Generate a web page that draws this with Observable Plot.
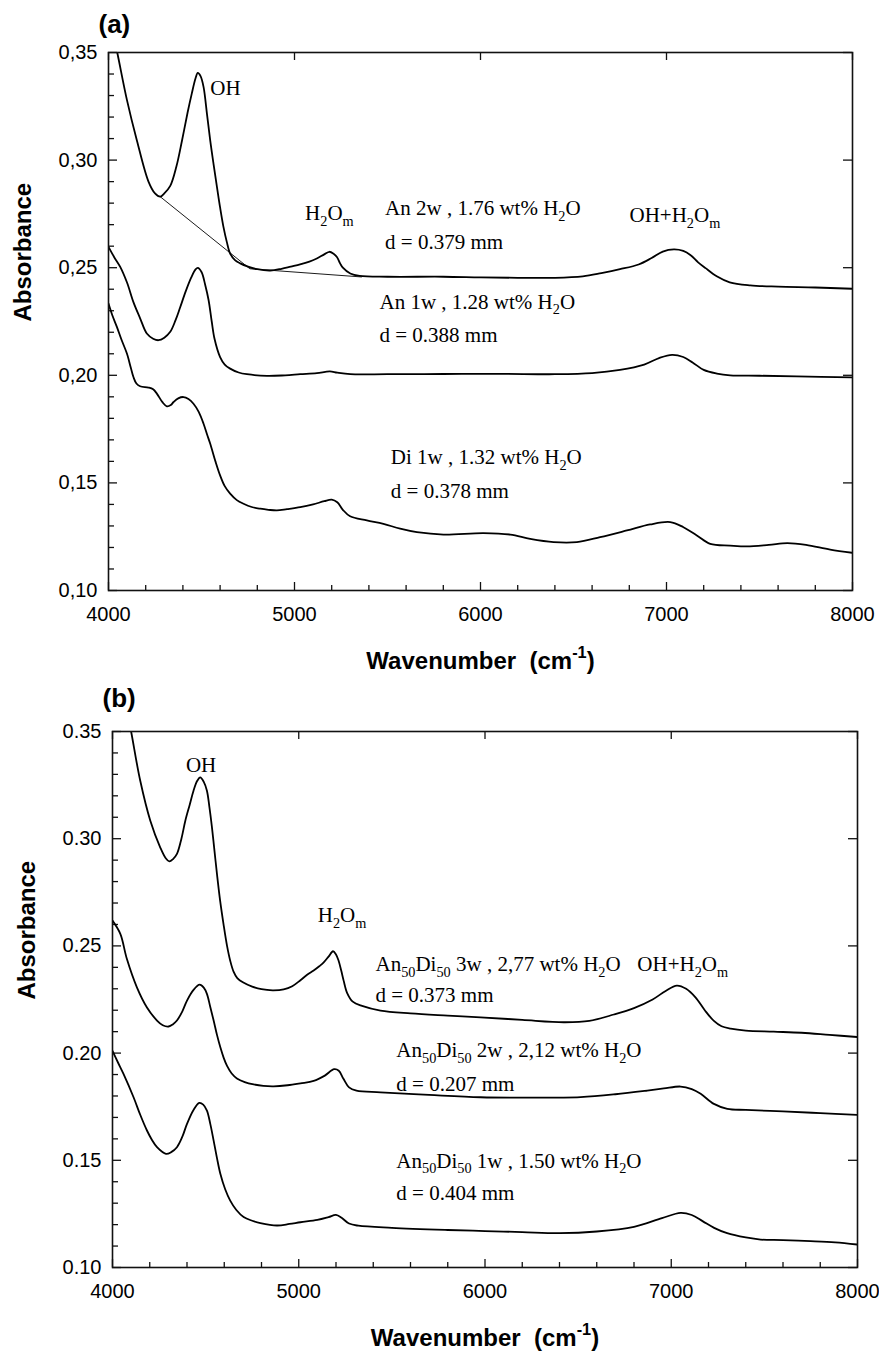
<!DOCTYPE html>
<html>
<head>
<meta charset="utf-8">
<script src="https://cdn.jsdelivr.net/npm/d3@7"></script>
<script src="https://cdn.jsdelivr.net/npm/@observablehq/plot@0.6"></script>
<style>
  html, body { margin: 0; padding: 0; background: #fff; }
  svg { display: block; }
</style>
</head>
<body>
<div id="figure"></div>
<script>
// Axis ticks shared by both panels
const wavenumberTicks = [4000, 5000, 6000, 7000, 8000];
const absorbanceTicks = [0.10, 0.15, 0.20, 0.25, 0.30, 0.35];

// Panel (a) spectra: [wavenumber (cm-1), absorbance]
const an2w = [
  [4000, 0.369], [4047, 0.350], [4099, 0.328], [4153, 0.309], [4215, 0.290], [4250, 0.2845],
  [4278, 0.2830], [4300, 0.2845], [4332, 0.2880], [4365, 0.297], [4395, 0.309], [4425, 0.322],
  [4448, 0.331], [4468, 0.338], [4480, 0.3405], [4495, 0.339], [4511, 0.334], [4530, 0.321],
  [4547, 0.309], [4565, 0.298], [4583, 0.2876], [4600, 0.278], [4618, 0.269], [4636, 0.262],
  [4654, 0.2566], [4680, 0.2535], [4708, 0.252], [4750, 0.2505], [4800, 0.2493], [4870, 0.2487],
  [4930, 0.2495], [4980, 0.2505], [5030, 0.2515], [5080, 0.2528], [5120, 0.2543], [5160, 0.2562],
  [5188, 0.2574], [5210, 0.2565], [5228, 0.2550], [5245, 0.2520], [5260, 0.2500], [5300, 0.2473],
  [5350, 0.2462], [5500, 0.2458], [5800, 0.2458], [6000, 0.2455], [6200, 0.2453], [6400, 0.2453],
  [6550, 0.2460], [6650, 0.2475], [6750, 0.2493], [6850, 0.2515], [6920, 0.2545], [6980, 0.2575],
  [7040, 0.2585], [7090, 0.2578], [7130, 0.2558], [7170, 0.2525], [7210, 0.2498], [7270, 0.2460],
  [7340, 0.2432], [7450, 0.2418], [7600, 0.2412], [7800, 0.2408], [8000, 0.2402]
];
// Tangent baseline drawn under the OH and H2Om bands of An 2w
const an2wBaseline = [[4278, 0.2830], [4760, 0.2495], [5360, 0.2457]];

const an1w = [
  [4000, 0.2597], [4030, 0.255], [4063, 0.2504], [4100, 0.243], [4134, 0.234], [4170, 0.2265],
  [4206, 0.2194], [4240, 0.2170], [4269, 0.2163], [4300, 0.2175], [4332, 0.2202], [4360, 0.2255],
  [4385, 0.2315], [4415, 0.2390], [4445, 0.2455], [4468, 0.2492], [4480, 0.2499], [4500, 0.2480],
  [4520, 0.2420], [4538, 0.2350], [4555, 0.2250], [4570, 0.2170], [4600, 0.2085], [4625, 0.2050],
  [4654, 0.2031], [4700, 0.2013], [4744, 0.2005], [4852, 0.1997], [4950, 0.2000], [5031, 0.2005],
  [5120, 0.2010], [5190, 0.2018], [5230, 0.2012], [5300, 0.2005], [5500, 0.2005], [5800, 0.2006],
  [6100, 0.2007], [6400, 0.2005], [6600, 0.2010], [6750, 0.2025], [6880, 0.2050], [6960, 0.2080],
  [7030, 0.2095], [7090, 0.2085], [7140, 0.2060], [7200, 0.2025], [7271, 0.2008], [7342, 0.2000],
  [7500, 0.1998], [7700, 0.1995], [8000, 0.1990]
];

const di1w = [
  [4000, 0.2333], [4020, 0.228], [4045, 0.2225], [4070, 0.2165], [4099, 0.2101], [4120, 0.2035],
  [4134, 0.1992], [4150, 0.1962], [4170, 0.1949], [4215, 0.1943], [4240, 0.1935], [4260, 0.1915],
  [4290, 0.1875], [4314, 0.1856], [4335, 0.1862], [4350, 0.1876], [4375, 0.1893], [4403, 0.1899],
  [4430, 0.1890], [4457, 0.1868], [4485, 0.1830], [4511, 0.1775], [4530, 0.1725], [4547, 0.1682],
  [4575, 0.1600], [4600, 0.1535], [4625, 0.1485], [4654, 0.1450], [4690, 0.1420], [4726, 0.1403],
  [4770, 0.1388], [4816, 0.1380], [4860, 0.1375], [4905, 0.1372], [4960, 0.1378], [5031, 0.1387],
  [5100, 0.1400], [5160, 0.1415], [5200, 0.1422], [5230, 0.1410], [5260, 0.1375], [5299, 0.1345],
  [5389, 0.1326], [5478, 0.1310], [5568, 0.1287], [5658, 0.1271], [5801, 0.1260], [6016, 0.1267],
  [6160, 0.1260], [6267, 0.1240], [6393, 0.1225], [6518, 0.1225], [6643, 0.1248], [6787, 0.1279],
  [6912, 0.1307], [7020, 0.1318], [7091, 0.1294], [7163, 0.1256], [7235, 0.1217], [7342, 0.1209],
  [7432, 0.1205], [7550, 0.1212], [7650, 0.1220], [7750, 0.1212], [7880, 0.1190], [8000, 0.1175]
];

// Panel (b) spectra
const an50di50_3w = [
  [4000, 0.395], [4050, 0.373], [4100, 0.350], [4149, 0.327], [4203, 0.3084], [4256, 0.2960],
  [4285, 0.2910], [4305, 0.2894], [4325, 0.2905], [4346, 0.2929], [4370, 0.300], [4391, 0.3084],
  [4415, 0.3160], [4435, 0.3224], [4455, 0.3270], [4471, 0.3286], [4490, 0.3265], [4507, 0.3224],
  [4520, 0.3150], [4534, 0.3053], [4548, 0.2940], [4561, 0.2835], [4578, 0.2710], [4596, 0.2602],
  [4615, 0.2500], [4632, 0.2431], [4650, 0.2380], [4670, 0.2350], [4700, 0.2330], [4750, 0.2310],
  [4800, 0.2298], [4860, 0.2293], [4919, 0.2297], [4965, 0.2312], [5009, 0.2340], [5045, 0.2365],
  [5080, 0.2385], [5110, 0.2405], [5134, 0.2423], [5160, 0.2450], [5184, 0.2475], [5200, 0.2460],
  [5214, 0.2431], [5228, 0.2385], [5241, 0.2338], [5260, 0.2280], [5290, 0.2240], [5340, 0.2220],
  [5439, 0.2198], [5600, 0.2185], [5800, 0.2175], [5976, 0.2167], [6200, 0.2155], [6423, 0.2144],
  [6560, 0.2150], [6692, 0.2180], [6800, 0.2210], [6900, 0.2250], [6970, 0.2290], [7030, 0.2315],
  [7080, 0.2300], [7130, 0.2260], [7180, 0.2200], [7229, 0.2150], [7270, 0.2125], [7319, 0.2114],
  [7400, 0.2105], [7550, 0.2100], [7700, 0.2095], [7850, 0.2085], [8000, 0.2075]
];

const an50di50_2w = [
  [4000, 0.2618], [4042, 0.2556], [4077, 0.2440], [4131, 0.2307], [4185, 0.2213], [4239, 0.2152],
  [4270, 0.2130], [4301, 0.2124], [4325, 0.2135], [4346, 0.2152], [4375, 0.2195], [4400, 0.2245],
  [4435, 0.2295], [4468, 0.2319], [4490, 0.2305], [4507, 0.2276], [4525, 0.2215], [4543, 0.2152],
  [4561, 0.2085], [4579, 0.2027], [4597, 0.1978], [4615, 0.1940], [4640, 0.1905], [4668, 0.1882],
  [4710, 0.1865], [4758, 0.1854], [4810, 0.1847], [4865, 0.1845], [4940, 0.1850], [5009, 0.1859],
  [5080, 0.1870], [5140, 0.1895], [5190, 0.1925], [5215, 0.1918], [5240, 0.1880], [5270, 0.1840],
  [5310, 0.1825], [5439, 0.1817], [5700, 0.1805], [5976, 0.1794], [6250, 0.1792], [6513, 0.1795],
  [6700, 0.1808], [6871, 0.1825], [6960, 0.1835], [7050, 0.1844], [7110, 0.1832], [7158, 0.1810],
  [7229, 0.1763], [7301, 0.1740], [7400, 0.1735], [7600, 0.1728], [7800, 0.1720], [8000, 0.1712]
];

const an50di50_1w = [
  [4000, 0.2010], [4030, 0.1955], [4059, 0.1903], [4113, 0.1794], [4150, 0.1710], [4185, 0.1639],
  [4212, 0.1595], [4239, 0.1561], [4287, 0.1530], [4315, 0.1538], [4346, 0.1561], [4375, 0.1610],
  [4400, 0.1670], [4435, 0.1735], [4466, 0.1768], [4487, 0.1760], [4507, 0.1732], [4525, 0.1670],
  [4543, 0.1592], [4561, 0.1510], [4579, 0.1437], [4605, 0.1365], [4632, 0.1312], [4665, 0.1268],
  [4704, 0.1235], [4750, 0.1218], [4794, 0.1207], [4883, 0.1196], [4950, 0.1203], [5009, 0.1211],
  [5100, 0.1222], [5160, 0.1235], [5200, 0.1245], [5230, 0.1232], [5270, 0.1205], [5320, 0.1195],
  [5500, 0.1185], [5800, 0.1175], [6000, 0.1170], [6200, 0.1165], [6400, 0.1160], [6600, 0.1168],
  [6800, 0.1190], [6950, 0.1230], [7050, 0.1255], [7110, 0.1245], [7170, 0.1215], [7230, 0.1185],
  [7300, 0.1160], [7400, 0.1140], [7480, 0.1130], [7600, 0.1128], [7748, 0.1123], [7880, 0.1117],
  [8000, 0.1107]
];

// Band and sample annotations (positions in wavenumber / absorbance); _{..} marks subscripts
const notesA = [
  {wn: 4547, abs: 0.3302, text: "OH"},
  {wn: 5057, abs: 0.2721, text: "H_{2}O_{m}"},
  {wn: 5487, abs: 0.2744, text: "An 2w , 1.76 wt% H_{2}O"},
  {wn: 5487, abs: 0.2585, text: "d = 0.379 mm"},
  {wn: 6801, abs: 0.2713, text: "OH+H_{2}O_{m}"},
  {wn: 5457, abs: 0.2310, text: "An 1w , 1.28 wt% H_{2}O"},
  {wn: 5457, abs: 0.2155, text: "d = 0.388 mm"},
  {wn: 5518, abs: 0.1586, text: "Di 1w , 1.32 wt% H_{2}O"},
  {wn: 5518, abs: 0.1431, text: "d = 0.378 mm"}
];
const notesB = [
  {wn: 4394, abs: 0.3309, text: "OH"},
  {wn: 5102, abs: 0.2610, text: "H_{2}O_{m}"},
  {wn: 5412, abs: 0.2381, text: "An_{50}Di_{50} 3w , 2,77 wt% H_{2}O"},
  {wn: 5412, abs: 0.2237, text: "d = 0.373 mm"},
  {wn: 6818, abs: 0.2381, text: "OH+H_{2}O_{m}"},
  {wn: 5524, abs: 0.1980, text: "An_{50}Di_{50} 2w , 2,12 wt% H_{2}O"},
  {wn: 5524, abs: 0.1825, text: "d = 0.207 mm"},
  {wn: 5524, abs: 0.1465, text: "An_{50}Di_{50} 1w , 1.50 wt% H_{2}O"},
  {wn: 5524, abs: 0.1315, text: "d = 0.404 mm"}
];

const minorX = d3.range(4000, 8001, 200).filter(v => v % 1000 !== 0);
const minorY = d3.range(10, 36, 1).filter(v => v % 5 !== 0).map(v => v / 100);

function panel({tag, spectra, baseline, notes, format, width, height, margins}) {
  const [mt, mr, mb, ml] = margins;
  const fw = width - ml - mr;
  const fh = height - mt - mb;
  const ink = "#111";
  const marks = [
    // inward ticks: bottom major/minor, top major, left major/minor, right major
    Plot.tickX(wavenumberTicks, {x: d => d, insetTop: fh - 8, stroke: ink, strokeWidth: 1.3}),
    Plot.tickX(minorX, {x: d => d, insetTop: fh - 5, stroke: ink, strokeWidth: 1.3}),
    Plot.tickX(wavenumberTicks, {x: d => d, insetBottom: fh - 8, stroke: ink, strokeWidth: 1.3}),
    Plot.tickY(absorbanceTicks, {y: d => d, insetRight: fw - 9, stroke: ink, strokeWidth: 1.3}),
    Plot.tickY(minorY, {y: d => d, insetRight: fw - 6, stroke: ink, strokeWidth: 1.3}),
    Plot.tickY(absorbanceTicks, {y: d => d, insetLeft: fw - 9, stroke: ink, strokeWidth: 1.3}),
    Plot.axisX({ticks: wavenumberTicks, tickSize: 0, tickPadding: 16, tickFormat: d => `${d}`, label: null, fontSize: 20}),
    Plot.axisY({ticks: absorbanceTicks, tickSize: 0, tickPadding: 11, tickFormat: format, label: null, fontSize: 20}),
    ...spectra.map(s => Plot.line(s, {x: d => d[0], y: d => d[1], curve: "catmull-rom", clip: true, stroke: "#000", strokeWidth: 1.8})),
    ...(baseline ? [Plot.line(baseline, {x: d => d[0], y: d => d[1], stroke: "#000", strokeWidth: 0.9})] : []),
    Plot.frame({stroke: ink, strokeWidth: 1.6}),
    Plot.text(notes, {x: "wn", y: "abs", text: "text", textAnchor: "start", lineAnchor: "bottom",
      fontFamily: "Liberation Serif, Times New Roman, serif", fontSize: 21, fill: "#000"}),
    Plot.text(["Absorbance"], {frameAnchor: "left", dx: -85, rotate: -90, fontWeight: "bold", fontSize: 24, fill: "#000"}),
    Plot.text(["Wavenumber\u00a0\u00a0(cm^{-1})"], {frameAnchor: "bottom", dy: 78, lineAnchor: "bottom", fontWeight: "bold", fontSize: 24, fill: "#000"}),
    Plot.text([tag.label], {frameAnchor: "top-left", dx: tag.dx, dy: tag.dy, textAnchor: "start", lineAnchor: "bottom", fontWeight: "bold", fontSize: 26, fill: "#000"})
  ];
  return Plot.plot({
    width, height,
    marginTop: mt, marginRight: mr, marginBottom: mb, marginLeft: ml,
    x: {domain: [4000, 8000]},
    y: {domain: [0.10, 0.35]},
    style: {fontFamily: "Liberation Sans, Arial, sans-serif", fontSize: "20px", background: "#fff", color: "#000", overflow: "visible"},
    marks
  });
}

// Turn _{..} and ^{..} into lowered / raised tspans
function richText(root) {
  const NS = "http://www.w3.org/2000/svg";
  for (const t of root.querySelectorAll("text")) {
    const s = t.textContent;
    if (!/[_^]\{/.test(s)) continue;
    const size = parseFloat(getComputedStyle(t).fontSize) || 20;
    t.textContent = "";
    let shift = 0;
    const add = (str, kind) => {
      if (!str) return;
      const ts = document.createElementNS(NS, "tspan");
      const target = kind === "_" ? size * 0.27 : kind === "^" ? -size * 0.42 : 0;
      const dy = target - shift;
      if (dy) ts.setAttribute("dy", dy.toFixed(2));
      shift = target;
      if (kind) ts.setAttribute("font-size", (size * 0.68).toFixed(1));
      ts.textContent = str;
      t.appendChild(ts);
    };
    const re = /([_^])\{([^}]*)\}/g;
    let last = 0, m;
    while ((m = re.exec(s))) {
      add(s.slice(last, m.index), null);
      add(m[2], m[1]);
      last = re.lastIndex;
    }
    add(s.slice(last), null);
  }
}

const figure = document.getElementById("figure");
const W = 879;

const panelA = panel({
  tag: {label: "(a)", dx: -10, dy: -20},
  spectra: [an2w, an1w, di1w],
  baseline: an2wBaseline,
  notes: notesA,
  format: d => d.toFixed(2).replace(".", ","),
  width: W, height: 676,
  margins: [52, 27, 86, 108]
});
const panelB = panel({
  tag: {label: "(b)", dx: -10, dy: -25},
  spectra: [an50di50_3w, an50di50_2w, an50di50_1w],
  baseline: null,
  notes: notesB,
  format: d => d.toFixed(2),
  width: W, height: 675,
  margins: [55, 22, 84, 112]
});
figure.append(panelA, panelB);
richText(panelA);
richText(panelB);
</script>
</body>
</html>
